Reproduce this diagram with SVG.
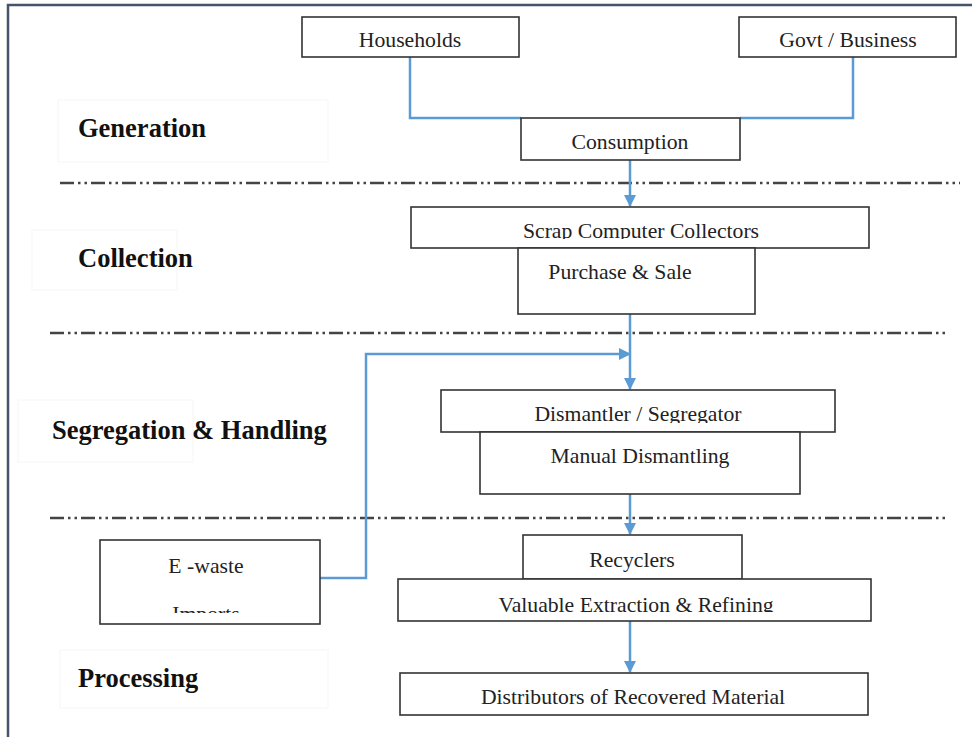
<svg xmlns="http://www.w3.org/2000/svg" width="972" height="737" viewBox="0 0 972 737">
<style>
.box{fill:#fff;stroke:#333;stroke-width:1.6}
.t{font-family:"Liberation Serif","Times New Roman",serif;font-size:21.7px;fill:#222;text-anchor:middle}
.lab{font-family:"Liberation Serif","Times New Roman",serif;font-size:26.5px;font-weight:bold;fill:#111}
.sep{stroke:#444;stroke-width:2.5;stroke-dasharray:14 4 2.5 4 2.5 4;fill:none}
.con{stroke:#5b9bd5;stroke-width:2.5;fill:none}
.faint{fill:none;stroke:#f6f6f6;stroke-width:1}
</style>
<defs>
<marker id="ah" markerWidth="12" markerHeight="12" refX="11" refY="6" orient="auto" markerUnits="userSpaceOnUse">
<path d="M0,0 L12,6 L0,12 Z" fill="#5b9bd5"/>
</marker>
<clipPath id="cEw"><rect x="100" y="540" width="220" height="73"/></clipPath>
<clipPath id="cScrap"><rect x="411" y="207" width="458" height="32"/></clipPath>
<clipPath id="cDis"><rect x="441" y="390" width="394" height="33"/></clipPath>
<clipPath id="cVal"><rect x="398" y="579" width="473" height="33"/></clipPath>
</defs>
<rect width="972" height="737" fill="#fff"/>
<g id="frame">
<path d="M8,737 V5 H972" fill="none" stroke="#44546a" stroke-width="2.5"/>
</g>
<g id="separators">
<line class="sep" x1="60" y1="183" x2="960" y2="183"/>
<line class="sep" x1="50" y1="333" x2="948" y2="333"/>
<line class="sep" x1="50" y1="518" x2="948" y2="518"/>
</g>
<g id="stage-labels">
<rect class="faint" x="58" y="100" width="270" height="62"/>
<text class="lab" x="78" y="137">Generation</text>
<rect class="faint" x="32" y="230" width="145" height="60"/>
<text class="lab" x="78" y="267">Collection</text>
<rect class="faint" x="18" y="400" width="175" height="62"/>
<text class="lab" x="52" y="439">Segregation &amp; Handling</text>
<rect class="faint" x="60" y="650" width="268" height="58"/>
<text class="lab" x="78" y="687">Processing</text>
</g>
<g id="connectors">
<polyline class="con" points="410,57 410,118 521,118"/>
<polyline class="con" points="853,57 853,118 740,118"/>
<line class="con" x1="630" y1="160" x2="630" y2="206" marker-end="url(#ah)"/>
<line class="con" x1="630" y1="314" x2="630" y2="389" marker-end="url(#ah)"/>
<polyline class="con" points="320,578 366,578 366,354 630,354" marker-end="url(#ah)"/>
<line class="con" x1="630" y1="494" x2="630" y2="534" marker-end="url(#ah)"/>
<line class="con" x1="630" y1="621" x2="630" y2="672" marker-end="url(#ah)"/>
</g>
<g id="households">
<rect class="box" x="302" y="17" width="217" height="40"/>
<text class="t" x="410" y="47">Households</text>
</g>
<g id="govt-business">
<rect class="box" x="739" y="17" width="217" height="40"/>
<text class="t" x="848" y="47">Govt / Business</text>
</g>
<g id="consumption">
<rect class="box" x="521" y="118" width="219" height="42"/>
<text class="t" x="630" y="149">Consumption</text>
</g>
<g id="scrap-collectors">
<rect class="box" x="411" y="207" width="458" height="41"/>
<text class="t" x="641" y="238" clip-path="url(#cScrap)">Scrap Computer Collectors</text>
</g>
<g id="purchase-sale">
<rect class="box" x="518" y="248" width="237" height="66"/>
<text class="t" x="620" y="279">Purchase &amp; Sale</text>
</g>
<g id="dismantler">
<rect class="box" x="441" y="390" width="394" height="42"/>
<text class="t" x="638" y="421" clip-path="url(#cDis)">Dismantler / Segregator</text>
</g>
<g id="manual-dismantling">
<rect class="box" x="480" y="432" width="320" height="62"/>
<text class="t" x="640" y="463">Manual Dismantling</text>
</g>
<g id="ewaste-imports">
<rect class="box" x="100" y="540" width="220" height="84"/>
<text class="t" x="206" y="573">E -waste</text>
<text class="t" x="206" y="621" clip-path="url(#cEw)">Imports</text>
</g>
<g id="recyclers">
<rect class="box" x="523" y="535" width="219" height="44"/>
<text class="t" x="632" y="567">Recyclers</text>
</g>
<g id="valuable-extraction">
<rect class="box" x="398" y="579" width="473" height="42"/>
<text class="t" x="636" y="612" clip-path="url(#cVal)">Valuable Extraction &amp; Refining</text>
</g>
<g id="distributors">
<rect class="box" x="400" y="673" width="468" height="42"/>
<text class="t" x="633" y="704">Distributors of Recovered Material</text>
</g>
</svg>
